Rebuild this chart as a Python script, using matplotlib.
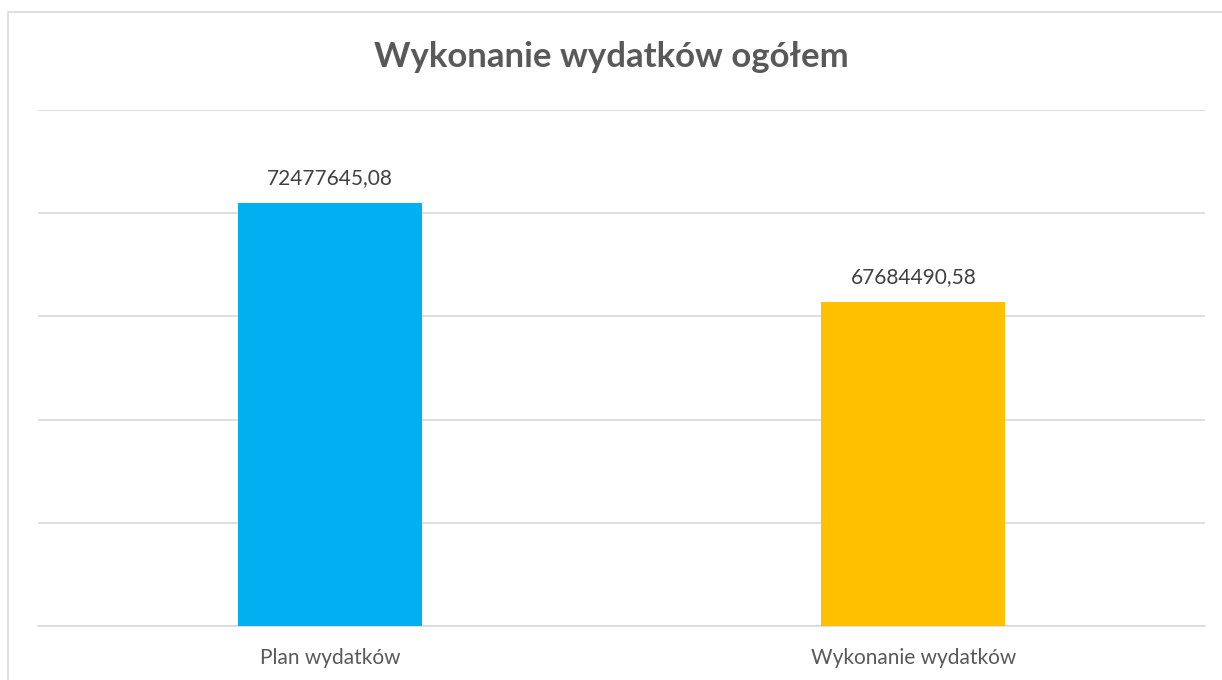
import matplotlib.pyplot as plt
from matplotlib.patches import Rectangle

plt.rcParams['font.family'] = ['Lato', 'DejaVu Sans']

# dane
kategorie = ['Plan wydatków', 'Wykonanie wydatków']
wartosci = [72477645.08, 67684490.58]
etykiety = ['72477645,08', '67684490,58']
kolory = ['#00B0F0', '#FFC000']

fig = plt.figure(figsize=(12.22, 6.8), dpi=100)

# ramka wykresu (widoczna tylko lewa i górna krawędź)
fig.patches.append(Rectangle((8 / 1222, -0.05), 1.1, 1.05 - 12 / 680,
                             transform=fig.transFigure, fill=False,
                             edgecolor='#D9D9D9', linewidth=1.2))

ax = fig.add_axes([38 / 1222, 1 - 626 / 680, (1205 - 38) / 1222, (626 - 110) / 680])
x = range(len(kategorie))
bars = ax.bar(x, wartosci, width=0.315, color=kolory, zorder=3)

ax.set_xlim(-0.5, 1.5)
ax.set_ylim(52e6, 77e6)
ax.set_yticks([52e6 + 5e6 * i for i in range(6)])
ax.yaxis.grid(True, color='#D9D9D9', linewidth=1.2, zorder=0)
ax.tick_params(axis='y', left=False, labelleft=False)
ax.tick_params(axis='x', bottom=False, labelsize=15, labelcolor='#595959', pad=12)
ax.set_xticks(list(x))
ax.set_xticklabels(kategorie)
for s in ['top', 'right', 'left']:
    ax.spines[s].set_visible(False)
ax.spines['bottom'].set_color('#D9D9D9')
ax.spines['bottom'].set_linewidth(1.2)

for bar, lab in zip(bars, etykiety):
    ax.annotate(lab, (bar.get_x() + bar.get_width() / 2, bar.get_height()),
                xytext=(0, 11), textcoords='offset points',
                ha='center', va='bottom', fontsize=15, color='#404040')

fig.text(0.5, 1 - 57 / 680, 'Wykonanie wydatków ogółem', ha='center', va='center',
         fontsize=25, fontweight='bold', color='#595959')

fig.savefig('out.png', dpi=100)
